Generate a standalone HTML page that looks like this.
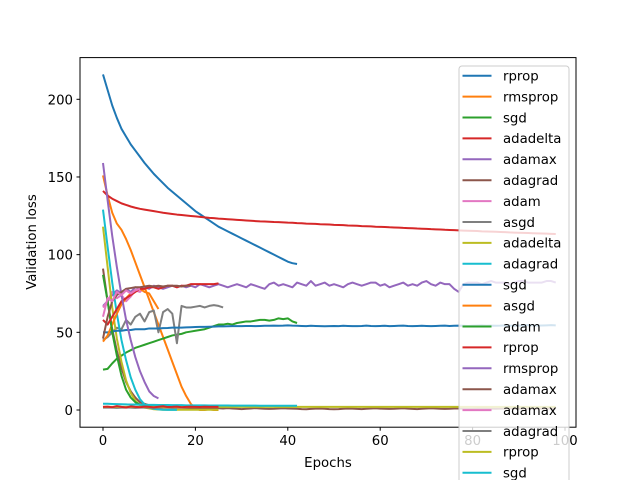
<!DOCTYPE html>
<html><head><meta charset="utf-8"><style>
body{margin:0;background:#fff}
svg{display:block;font-family:"DejaVu Sans","Liberation Sans",sans-serif}
</style></head><body>
<svg id="chart" width="640" height="480" viewBox="0 0 640 480" xmlns="http://www.w3.org/2000/svg">
<rect width="640" height="480" fill="#fff"/>
<g id="series"></g>
<rect x="80" y="57.6" width="496" height="369.6" fill="none" stroke="#000" stroke-width="1"/>
<g id="xticks"></g>
<g id="yticks"></g>
<text x="328" y="467" font-size="13.3" text-anchor="middle">Epochs</text>
<text transform="translate(36,242) rotate(-90)" font-size="13.3" text-anchor="middle">Validation loss</text>
<g id="legend"></g>
</svg>
<script>
const xTicks=[0,20,40,60,80,100];
const yTicks=[0,50,100,150,200];
const seriesNames=["rprop","rmsprop","sgd","adadelta","adamax","adagrad","adam","asgd","adadelta","adagrad","sgd","asgd","adam","rprop","rmsprop","adamax","adamax","adagrad","rprop","sgd"];
const colors=["#1f77b4","#ff7f0e","#2ca02c","#d62728","#9467bd","#8c564b","#e377c2","#7f7f7f","#bcbd22","#17becf"];
const s0=[216,206,196,188,181,176,171,167,163,159,155.5,152,149,146,143,140.5,138,135.5,133,130.5,128,126,124,122,120,118,116.5,115,113.5,112,110.5,109,107.5,106,104.5,103,101.5,100,98.5,97,95.5,94.5,94];
const s1=[151,138,127,120,116,110,103,95,87,79,71,63,55,47,39,31,23,15,9,4,1,0,0,0.5,0,0];
const s2=[26,26.5,30,33,35,37,38.5,40,41,42,43,44,45,46,47,48,48.5,49,50,50.5,51,51.5,52,53,54,55,55,55.5,55,56,56.5,57,57,57.5,58,58,57.5,58,59,58.5,59,57,56];
const s3=[141,138,136,134.5,133,132,131,130.2,129.5,129,128.5,128,127.5,127,126.6,126.2,125.8,125.5,125.2,124.9,124.6,124.3,124,123.7,123.5,123.2,123,122.8,122.6,122.4,122.2,122,121.8,121.6,121.4,121.3,121.2,121,120.9,120.8,120.6,120.5,120.3,120.2,120,119.9,119.8,119.6,119.5,119.4,119.2,119.1,119,118.8,118.7,118.6,118.4,118.3,118.2,118,117.9,117.8,117.6,117.5,117.4,117.2,117.1,117,116.8,116.7,116.6,116.4,116.3,116.2,116,115.9,115.8,115.6,115.5,115.4,115.3,115.2,115,114.9,114.8,114.7,114.6,114.5,114.3,114.2,114.1,114,113.9,113.8,113.7,113.6,113.5,113.4,113.3];
const s4=[67,70,74,77,75,78,76,79,78,79,78,80,79,78,79,80,79,80,79,80,79,81,80,79,80,81,80,79,80,81,80,79,81,80,79,78,81,82,80,81,80,79,82,81,80,83,80,81,82,80,81,80,79,81,82,81,80,81,82,82,80,81,79,80,81,82,80,81,80,82,83,81,80,82,81,81,78,76,81,82,82,82,81,82,83,82,82,82,81,82,83,83,82,82,82,82,83,83,82];
const s5=[91,70,52,38,27,18,12,8,5,4,3,2.5,2,2,1.8,1.6,1.5,1.5,1.4,1.3,1.3,1.2,1.2,1.2,1.1,1.1,1,1.2,1,0.8,0.6,0.8,1,1.2,1,0.8,0.7,0.8,1,1.1,1,0.9,0.8,0.6,0.5,0.7,0.9,1,0.8,0.6,0.5,0.6,0.8,1,0.9,0.7,0.6,0.8,1,1.1,0.9,0.8,0.7,0.8,1,1.1,0.9,0.7,0.6,0.8,1,1.1,1,0.8,0.7,0.8,1,1,0.9,0.8,0.8,1,1.1,1,0.9,0.8,0.9,1,1.1,1,0.9,0.9,1,1.1,1,0.9,1,1.1,1];
const s6=[66,70,76,72,74,70,73,77,76,79];
const s7=[45,47,50,53,52,58,55,60,62,57,63,64,50,63,65,62,43,67,66,66,66.5,67,66,67,67.5,67,66];
const s8=[118,92,66,46,31,19,11,6,3,1.5,1,0.5,0.3,0.2,0.2,0.2,0.2,0.2,0.2,0.2,0.2,0.2,0.2,0.2,0.2,0.2];
const s9=[129,105,82,62,45,32,21,13,7,3.5,1.5,0.8,0.4,0.2,0.1,0.1,0.1];
const s10=[50,50,50.5,51,51,51.5,51.5,52,52,52,52.5,52.5,52.5,52.7,52.8,53,53,53,53.2,53.3,53.4,53.5,53.5,53.6,53.7,53.8,53.8,53.9,54,54,54,54.1,54.1,54,54.1,54.2,54.2,54.3,54.2,54.3,54.5,54.3,54.2,54.1,54,54.2,54.1,54,53.9,54,54.1,54,54.2,54.1,54,54,54.1,54.3,54.1,54,54.1,54.2,54,54.1,54.2,54.3,54.1,54,54.1,54.2,54.1,54,54.1,54.2,54.3,54.1,54.2,54.3,54.2,54.1,54.2,54.3,54.4,54.2,54.3,54.2,54.3,54.5,54.3,54.2,54.3,54.4,54.6,54.5,54.3,54.4,54.5,54.6,54.5];
const s11=[44,48,55,62,68,72,75,77,78,76,75,70,65];
const s12=[87,70,50,35,22,13,8,5,3.5,3,2.5,2,2,1.8,1.6,1.5,1.5];
const s13=[58,55,60,65,70,72,74,76,78,78,79,79,78,79,80,80,79,80,80,81,81,81,81,81,81,81.5];
const s14=[159,135,112,92,74,58,45,34,25,18,12,9,7.5];
const s15=[46,60,70,74,76,78,78.5,79,79,79.5,80,79.5,80,79.5,80,80,80,79.5,80,80];
const s16=[60,72,70,76,74,77,75,77,78];
const s17=[1.5,1.6,1.5,1.4,1.5,1.6,1.5,1.4,1.5,1.6,1.5,1.4,1.5,1.6,1.5,1.4,1.5];
const s18=[2,2,2,2,2,2,2,2,2,2,2,2,2,2,2,2,2,2,2,2,2,2,2,2,2,2,2,2,2,2,2,2,2,2,2,2,2,2,2,2,2,2,2,2,2,2,2,2,2,2,2,2,2,2,2,2,2,2,2,2,2,2,2,2,2,2,2,2,2,2,2,2,2,2,2,2,2,2,2,2,2,2,2,2,2,2,2,2,2,2,2,2,2,2,2,2,2,2,2];
const s19=[4,4,3.9,3.8,3.7,3.6,3.5,3.5,3.4,3.4,3.3,3.3,3.2,3.2,3.2,3.1,3.1,3.1,3,3,3,3,3,2.9,2.9,2.9,2.9,2.9,2.8,2.8,2.8,2.8,2.8,2.8,2.7,2.7,2.7,2.7,2.7,2.7,2.7,2.7,2.7];
const s20=[2,2.2,1.8,2.5,2,1.6,2.3,2,1.8,2.2,2,1.7,2.1,2.4,1.9,2,2.2,1.8,2,2.1,2,1.9,2.1,2,2,2];
const allSeries=[s0,s1,s2,s3,s4,s5,s6,s7,s8,s9,s10,s11,s12,s13,s14,s15,s16,s17,s18,s19,s20];
const seriesColorIdx=[0,1,2,3,4,5,6,7,8,9,0,1,2,3,4,5,6,7,8,9,3];

const NS="http://www.w3.org/2000/svg";
function xs(v){return 103+v*4.62;}
function ys(v){return 410-v*1.5535;}
const gS=document.getElementById('series');
allSeries.forEach((arr,i)=>{
  const p=document.createElementNS(NS,'path');
  p.setAttribute('d',arr.map((v,k)=>(k?'L':'M')+xs(k).toFixed(2)+' '+ys(v).toFixed(2)).join(''));
  p.setAttribute('fill','none');
  p.setAttribute('stroke',colors[seriesColorIdx[i]]);
  p.setAttribute('stroke-width','2');
  p.setAttribute('stroke-linejoin','round');
  
  
  gS.appendChild(p);
});
const gX=document.getElementById('xticks');
xTicks.forEach(t=>{
  const l=document.createElementNS(NS,'line');
  l.setAttribute('x1',xs(t));l.setAttribute('x2',xs(t));l.setAttribute('y1',427.2);l.setAttribute('y2',430.7);
  l.setAttribute('stroke','#000');
  
  
  gX.appendChild(l);
  const tx=document.createElementNS(NS,'text');
  tx.setAttribute('x',xs(t));tx.setAttribute('y',445);tx.setAttribute('font-size','13.3');tx.setAttribute('text-anchor','middle');
  tx.textContent=t;
  
  
  gX.appendChild(tx);
});
const gY=document.getElementById('yticks');
yTicks.forEach(t=>{
  const l=document.createElementNS(NS,'line');
  l.setAttribute('x1',76.5);l.setAttribute('x2',80);l.setAttribute('y1',ys(t));l.setAttribute('y2',ys(t));
  l.setAttribute('stroke','#000');
  
  
  gY.appendChild(l);
  const tx=document.createElementNS(NS,'text');
  tx.setAttribute('x',73);tx.setAttribute('y',ys(t)+5);tx.setAttribute('font-size','13.3');tx.setAttribute('text-anchor','end');
  tx.textContent=t;
  
  
  gY.appendChild(tx);
});
const gL=document.getElementById('legend');
const box=document.createElementNS(NS,'rect');
box.setAttribute('x',459);box.setAttribute('y',66);box.setAttribute('width',110);box.setAttribute('height',430);box.setAttribute('rx',3);
box.setAttribute('fill','rgba(255,255,255,0.8)');box.setAttribute('stroke','#ccc');


gL.appendChild(box);
seriesNames.forEach((n,i)=>{
  const y=75.7+i*20.9;
  const l=document.createElementNS(NS,'line');
  l.setAttribute('x1',462.5);l.setAttribute('x2',491.5);l.setAttribute('y1',y);l.setAttribute('y2',y);
  l.setAttribute('stroke',colors[i%10]);l.setAttribute('stroke-width','2');
  
  
  gL.appendChild(l);
  const tx=document.createElementNS(NS,'text');
  tx.setAttribute('x',503);tx.setAttribute('y',y+4.8);tx.setAttribute('font-size','13.3');
  tx.textContent=n;
  
  
  gL.appendChild(tx);
});
</script>
</body></html>
